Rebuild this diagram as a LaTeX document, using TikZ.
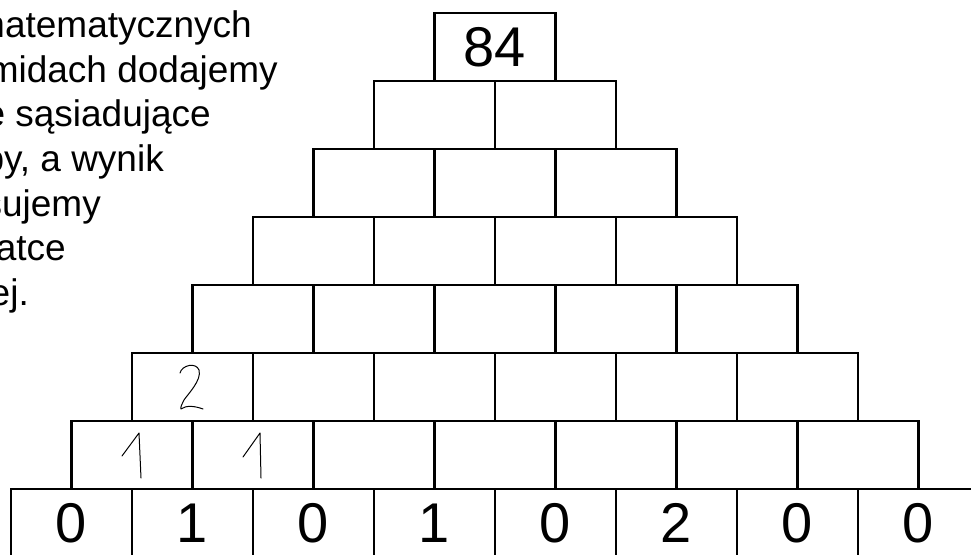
\documentclass[tikz,border=0pt]{standalone}
\usepackage{fontspec}
\setmainfont{Liberation Sans}
\begin{document}
\begin{tikzpicture}[x=1pt,y=-1pt,
  cell/.style={draw,line width=2.2pt,minimum width=121pt,minimum height=68pt,inner sep=0pt,outer sep=0pt,font=\fontsize{56}{60}\selectfont},
  txt/.style={inner sep=0pt,anchor=base east,font=\fontsize{37}{44}\selectfont},
  hand/.style={line width=1pt,line cap=round,line join=round}]
\useasboundingbox (0,0) rectangle (971,554);
\clip (0,0) rectangle (971,554);
% text fragment
\node[txt] (t1) at (252,37) {matematycznych};
\node[txt] (t2) at (278,82) {midach dodajemy};
\node[txt] (t3) at (211,126) {e sąsiadujące};
\node[txt] (t4) at (164,171) {by, a wynik};
\node[txt] (t5) at (101,216) {sujemy};
\node[txt] (t6) at (66,260) {atce};
\node[txt] (t7) at (29,305) {ej.};
% pyramid
\node[cell] (c0-0) at (495,47) {84};
\foreach \r in {1,...,6}{
  \foreach \k in {0,...,\r}{
    \node[cell] (c\r-\k) at ({495+(\k-\r/2)*121},{47+68*\r}) {};
  }
}
\foreach \v [count=\k from 0] in {0,1,0,1,0,2,0,0}{
  \node[cell] (c7-\k) at ({495+(\k-3.5)*121},523) {\v};
}
% handwritten entries
\draw[hand] (122,456) -- (139,433) -- (141,478);
\draw[hand] (243,457) -- (260,433) -- (261,478);
\draw[hand] (180,373) .. controls (182,365) and (196,362) .. (199,370)
  .. controls (202,380) and (188,394) .. (184,400)
  .. controls (182,404) and (180,408) .. (181,409)
  .. controls (186,405) and (195,406) .. (203,409);
\end{tikzpicture}
\end{document}
